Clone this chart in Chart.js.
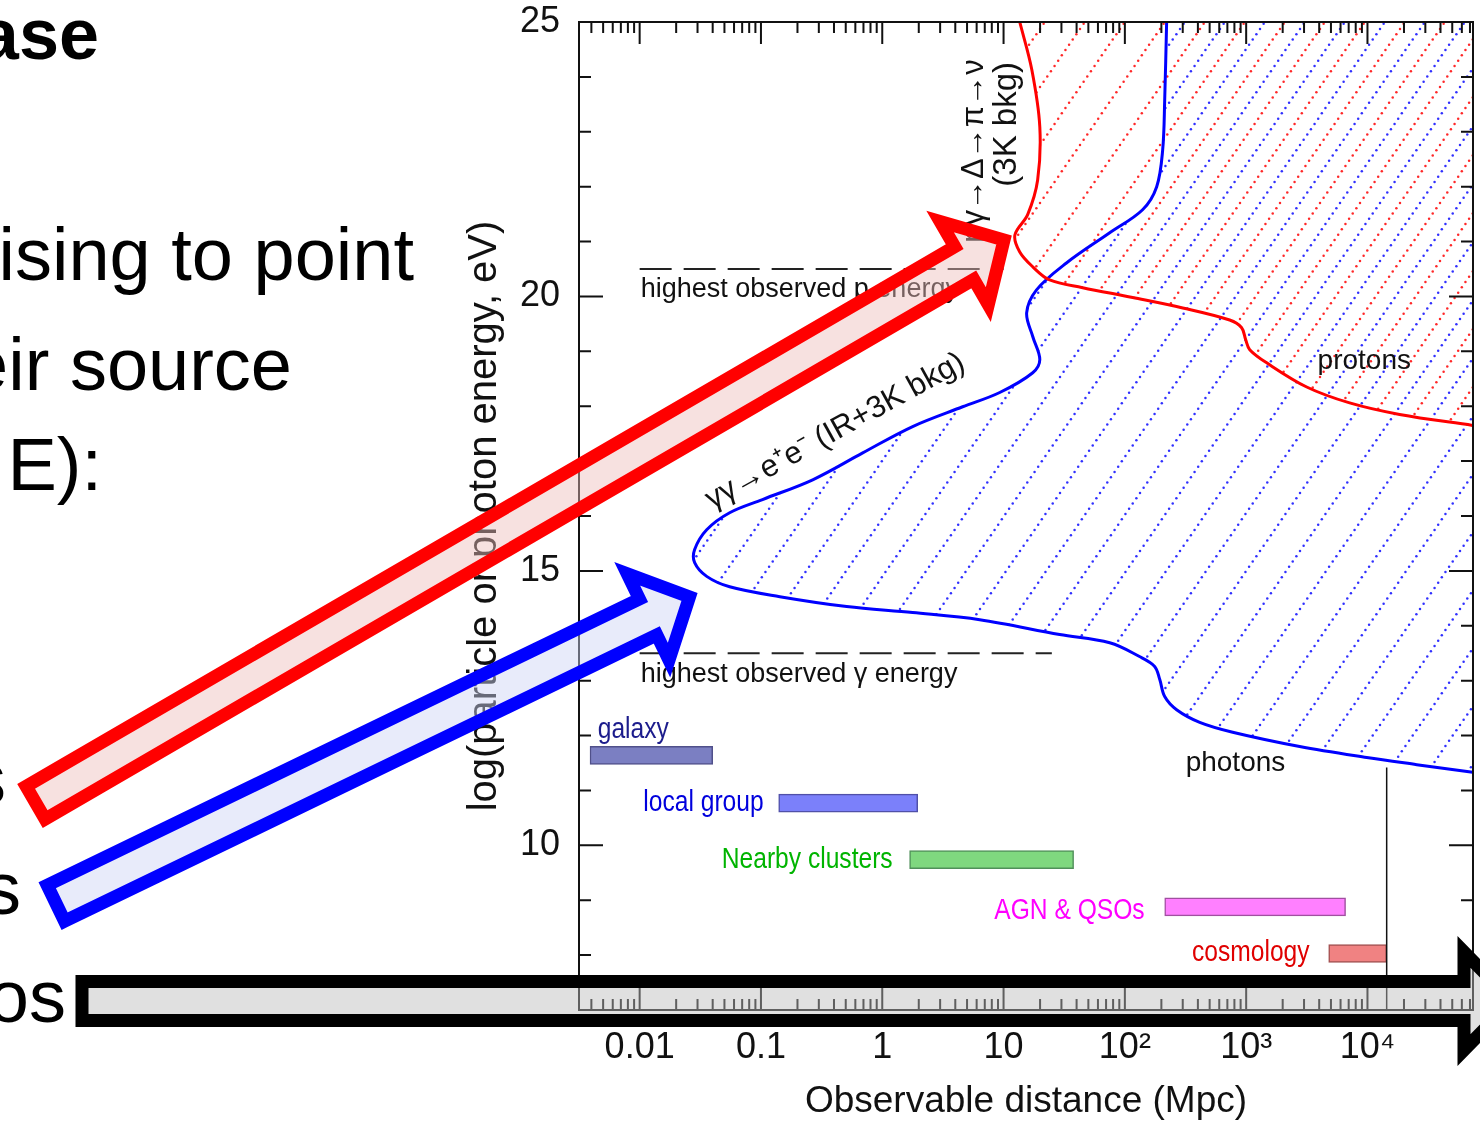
<!DOCTYPE html>
<html><head><meta charset="utf-8">
<script src="https://cdn.jsdelivr.net/npm/chart.js@4.4.0/dist/chart.umd.min.js"></script>
<style>
html,body{margin:0;padding:0;background:#fff;}
#wrap{position:relative;width:1480px;height:1127px;overflow:hidden;background:#fff;}
#c{position:absolute;left:0;top:0;}
#ov{position:absolute;left:0;top:0;}
</style></head><body>
<div id="wrap">
<canvas id="c" width="1480" height="1127"></canvas>
<svg id="ov" width="1480" height="1127" xmlns="http://www.w3.org/2000/svg">
  <g font-family="'Liberation Sans', Arial, Helvetica, sans-serif" fill="#000">
    <text x="99" y="59" text-anchor="end" font-size="72" font-weight="bold">ase</text>
    <text x="414" y="280" text-anchor="end" font-size="74">ising to point</text>
    <text x="292" y="390" text-anchor="end" font-size="74">eir source</text>
    <text x="102" y="490" text-anchor="end" font-size="74">E):</text>
    <text x="6" y="804" text-anchor="end" font-size="74">s</text>
    <text x="21" y="914" text-anchor="end" font-size="74">s</text>
    <text x="66" y="1022" text-anchor="end" font-size="74">os</text>
  </g>
  <g id="arrows"></g>
</svg>
</div>
<script>
// ---------------- data ----------------
const xTickValues = [0.01, 0.1, 1, 10, 100, 1000, 10000];
const xTickLabels = ['0.01', '0.1', '1', '10', '10²', '10³', '10⁴'];
const yTickValues = [10, 15, 20, 25];
const yTickLabels = ['10', '15', '20', '25'];

// proton horizon (pγ→Δ→π→ν on the 3K background): distance (Mpc), log E (eV)
const protonDist = [13.6, 17.1, 19.9, 19.1, 15.8, 12.4, 13.6, 17.4, 24, 44.9, 116, 300, 731, 918, 991, 1070, 1476, 3155, 7130, 18400, 73600];
const protonLogE = [25.0, 24.13, 23.09, 22.12, 21.49, 21.12, 20.81, 20.54, 20.30, 20.16, 19.98, 19.79, 19.57, 19.43, 19.21, 19.03, 18.79, 18.35, 18.06, 17.85, 17.65];

// photon horizon (γγ→e+e− on IR+3K background)
const photonDist = [221, 213, 205, 183, 140, 75, 33, 18.7, 15.5, 17.4, 19.9, 17.4, 9.3, 4.6, 1.78, 0.69, 0.267, 0.103, 0.0552, 0.0357, 0.0284, 0.0284, 0.0357, 0.0552, 0.143, 0.509, 1.78, 6.36, 29, 75, 132, 176, 194, 213, 267, 414, 774, 2760, 9860, 25500, 73600];
const photonLogE = [25.0, 23.58, 22.67, 22.0, 21.58, 21.16, 20.61, 20.12, 19.70, 19.27, 18.85, 18.61, 18.25, 17.99, 17.63, 17.15, 16.66, 16.30, 16.06, 15.75, 15.39, 15.15, 14.90, 14.71, 14.53, 14.35, 14.24, 14.11, 13.84, 13.69, 13.44, 13.26, 13.02, 12.71, 12.47, 12.24, 12.06, 11.80, 11.60, 11.47, 11.33];

// source classes: distance ranges (Mpc) and the energy level where the bar sits
const sourceNames = ['galaxy', 'local group', 'Nearby clusters', 'AGN & QSOs', 'cosmology'];
const sourceMin = [0.0039, 0.14, 1.68, 213, 4790];
const sourceMax = [0.040, 1.96, 37.8, 6600, 14400];
const sourceLogE = [11.64, 10.77, 9.74, 8.88, 8.03];

// highest observed energies (log eV) and the distance span of their dashed lines
const protonMaxE = 20.5, protonMaxFrom = 0.01, protonMaxTo = 10;
const gammaMaxE = 13.5, gammaMaxFrom = 0.01, gammaMaxTo = 25;

// vertical marker (Hubble distance)
const hubbleDist = 14400, hubbleTopE = 11.42;

const xMin = 0.0031623, xMax = 74131, yMin = 7, yMax = 25;

// ---------------- styling ----------------
const FONT = "'Liberation Sans', Arial, Helvetica, sans-serif";
const ctx0 = document.getElementById('c').getContext('2d');

function hatchPattern(color, shift) {
  const W = 40, H = 58, N = 11;
  const c = document.createElement('canvas');
  c.width = W; c.height = H;
  const g = c.getContext('2d');
  g.fillStyle = color;
  for (let k = 0; k < N; k++) {
    const t = (k + 0.5) / N;
    g.beginPath();
    g.arc(t * W, H - t * H, 1.25, 0, Math.PI * 2);
    g.fill();
  }
  const p = ctx0.createPattern(c, 'repeat');
  if (shift) p.setTransform(new DOMMatrix([1, 0, 0, 1, shift, 0]));
  return p;
}
const blueHatch = hatchPattern('#3030ff', 0);
const redHatch = hatchPattern('#ff2828', 20);

const pts = (xs, ys) => xs.map((x, i) => ({x, y: ys[i]}));
const protonPts = pts(protonDist, protonLogE);
const photonPts = pts(photonDist, photonLogE);
// closed regions (closing corners lie outside the plot, they are clipped)
const protonRegion = protonPts.concat([{x: 1e6, y: protonLogE[protonLogE.length - 1]}, {x: 1e6, y: 30}, {x: protonDist[0], y: 30}]);
const photonRegion = photonPts.concat([{x: 1e6, y: photonLogE[photonLogE.length - 1]}, {x: 1e6, y: 30}, {x: photonDist[0], y: 30}]);

const barFill = ['#7b7fc2', '#7b80fa', '#7fd87f', '#ff80ff', '#f08282'];
const barEdge = ['#50508a', '#5050a8', '#50905a', '#a050a0', '#a05050'];
const labelColor = ['#1c1c8c', '#0000dd', '#00b400', '#ff00ff', '#e00000'];

const TENSION = 0.35;

// annotation texts (anchored in data coordinates)
const notes = [
  {t: 'highest observed p energy', x: 0.0102, y: 19.99, size: 27},
  {t: 'highest observed γ energy', x: 0.0102, y: 12.98, size: 27},
  {t: 'protons', x: 3882, y: 18.68, size: 28},
  {t: 'photons', x: 317, y: 11.35, size: 28},
  {t: 'γγ→e⁺e⁻ (IR+3K bkg)', x: 0.0395, y: 16.12, size: 31, rot: -29},
  {t: 'pγ→Δ→π→ν', x: 6.73, y: 20.98, size: 31, rot: -90},
  {t: '(3K bkg)', x: 12.6, y: 22.0, size: 33, rot: -90},
  {t: sourceNames[0], x: 0.00451, y: 11.95, size: 30, sx: 0.82, color: labelColor[0]},
  {t: sourceNames[1], x: 0.1052, y: 10.62, size: 30, sx: 0.82, color: labelColor[1], align: 'right'},
  {t: sourceNames[2], x: 1.218, y: 9.58, size: 30, sx: 0.82, color: labelColor[2], align: 'right'},
  {t: sourceNames[3], x: 145.5, y: 8.66, size: 30, sx: 0.82, color: labelColor[3], align: 'right'},
  {t: sourceNames[4], x: 3334, y: 7.89, size: 30, sx: 0.82, color: labelColor[4], align: 'right'},
];

const framePlugin = {
  id: 'frameTicks',
  afterDatasetsDraw(chart) {
    const {ctx, chartArea: a, scales: {x, y}} = chart;
    ctx.save();
    ctx.strokeStyle = '#111';
    ctx.lineWidth = 2;
    ctx.beginPath();
    for (let n = -3; n <= 5; n++) {
      for (let k = 1; k <= 9; k++) {
        const v = k * Math.pow(10, n);
        if (v < x.min || v > x.max) continue;
        const px = x.getPixelForValue(v);
        const L = k === 1 ? 22 : 11;
        ctx.moveTo(px, a.bottom); ctx.lineTo(px, a.bottom - L);
        ctx.moveTo(px, a.top); ctx.lineTo(px, a.top + L);
      }
    }
    for (let v = Math.ceil(y.min); v <= y.max; v++) {
      const py = y.getPixelForValue(v);
      const L = v % 5 === 0 ? 24 : 12;
      ctx.moveTo(a.left, py); ctx.lineTo(a.left + L, py);
      ctx.moveTo(a.right, py); ctx.lineTo(a.right - L, py);
    }
    ctx.stroke();
    ctx.strokeRect(a.left, a.top, a.right - a.left, a.bottom - a.top);
    ctx.restore();

    for (const n of notes) {
      ctx.save();
      ctx.translate(x.getPixelForValue(n.x), y.getPixelForValue(n.y));
      if (n.rot) ctx.rotate(n.rot * Math.PI / 180);
      ctx.scale(n.sx || 1, 1);
      ctx.font = `${n.size}px ${FONT}`;
      ctx.fillStyle = n.color || '#111';
      ctx.textAlign = n.align || 'left';
      ctx.textBaseline = 'alphabetic';
      ctx.fillText(n.t, 0, 0);
      ctx.restore();
    }
  }
};

new Chart(document.getElementById('c'), {
  type: 'scatter',
  data: {
    datasets: [
      {type: 'line', label: 'photon region', data: photonRegion, borderWidth: 0, borderColor: 'rgba(0,0,0,0)',
       backgroundColor: blueHatch, fill: 'shape', pointRadius: 0, tension: TENSION, order: 5},
      {type: 'line', label: 'proton region', data: protonRegion, borderWidth: 0, borderColor: 'rgba(0,0,0,0)',
       backgroundColor: redHatch, fill: 'shape', pointRadius: 0, tension: TENSION, order: 4},
      {type: 'bar', label: 'sources', indexAxis: 'y',
       data: sourceNames.map((s, i) => ({x: [sourceMin[i], sourceMax[i]], y: sourceLogE[i]})),
       backgroundColor: barFill, borderColor: barEdge, borderWidth: 1.5, borderSkipped: false,
       barThickness: 18, order: 3},
      {type: 'line', label: 'highest p', data: [{x: protonMaxFrom, y: protonMaxE}, {x: protonMaxTo, y: protonMaxE}],
       borderColor: '#222', borderWidth: 2, borderDash: [32, 12], pointRadius: 0, fill: false, order: 2},
      {type: 'line', label: 'highest γ', data: [{x: gammaMaxFrom, y: gammaMaxE}, {x: gammaMaxTo, y: gammaMaxE}],
       borderColor: '#222', borderWidth: 2, borderDash: [32, 12], pointRadius: 0, fill: false, order: 2},
      {type: 'line', label: 'hubble', data: [{x: hubbleDist, y: hubbleTopE}, {x: hubbleDist, y: yMin}],
       borderColor: '#111', borderWidth: 1.5, pointRadius: 0, fill: false, order: 2},
      {type: 'line', label: 'protons', data: protonPts, borderColor: '#ff0000', borderWidth: 3,
       pointRadius: 0, fill: false, tension: TENSION, order: 0},
      {type: 'line', label: 'photons', data: photonPts, borderColor: '#0000ff', borderWidth: 3,
       pointRadius: 0, fill: false, tension: TENSION, order: 1},
    ]
  },
  options: {
    responsive: false,
    maintainAspectRatio: false,
    animation: false,
    events: [],
    layout: {padding: {left: 457, top: 22, right: 7, bottom: 1}},
    plugins: {legend: {display: false}, tooltip: {enabled: false}},
    scales: {
      x: {
        type: 'logarithmic', min: xMin, max: xMax, bounds: 'data', position: 'bottom', offset: false,
        grid: {display: false, drawTicks: false, offset: false}, border: {display: false},
        afterBuildTicks: s => { s.ticks = xTickValues.map(v => ({value: v})); },
        afterFit: s => { s.height = 116; s.paddingLeft = 0; s.paddingRight = 0; s.paddingTop = 0; s.paddingBottom = 0; },
        ticks: {autoSkip: false, maxRotation: 0, padding: 16, color: '#111',
                font: {family: FONT, size: 36}, callback: (v, i) => xTickLabels[i]},
        title: {display: true, text: 'Observable distance (Mpc)', color: '#111',
                font: {family: FONT, size: 37}, padding: {top: 0, bottom: 2}}
      },
      y: {
        type: 'linear', min: yMin, max: yMax, bounds: 'data', position: 'left', offset: false,
        grid: {display: false, drawTicks: false, offset: false}, border: {display: false},
        afterBuildTicks: s => { s.ticks = yTickValues.map(v => ({value: v})); },
        afterFit: s => { s.width = 122; s.paddingTop = 0; s.paddingBottom = 0; s.paddingLeft = 0; s.paddingRight = 0; },
        ticks: {autoSkip: false, padding: 19, color: '#111',
                font: {family: FONT, size: 36}, callback: (v, i) => yTickLabels[i]},
        title: {display: true, text: 'log(particle or photon energy, eV)', color: '#111',
                font: {family: FONT, size: 40}, padding: {top: 4, bottom: 0}}
      }
    }
  },
  plugins: [framePlugin]
});

// ---------------- slide overlay arrows ----------------
const slideArrows = [
  {tail: [35.6, 802.7], tip: [1004, 240], w: 19, hw: 48, hl: 46, stroke: '#ff0000', fill: 'rgba(237,190,188,0.46)'},
  {tail: [55.9, 903.2], tip: [689.5, 597], w: 20, hw: 48, hl: 46, stroke: '#0000ff', fill: 'rgba(205,211,244,0.46)'},
  {tail: [82, 1001], tip: [1512, 1001], w: 19.5, hw: 49, hl: 48, stroke: '#000000', fill: 'rgba(187,187,187,0.46)'},
];
const g = document.getElementById('arrows');
for (const a of slideArrows) {
  const [tx, ty] = a.tail, [px, py] = a.tip;
  const L = Math.hypot(px - tx, py - ty), ux = (px - tx) / L, uy = (py - ty) / L, nx = -uy, ny = ux;
  const bx = px - ux * a.hl, by = py - uy * a.hl;
  const P = [[tx + nx * a.w, ty + ny * a.w], [bx + nx * a.w, by + ny * a.w], [bx + nx * a.hw, by + ny * a.hw],
             [px, py], [bx - nx * a.hw, by - ny * a.hw], [bx - nx * a.w, by - ny * a.w], [tx - nx * a.w, ty - ny * a.w]];
  const poly = document.createElementNS('http://www.w3.org/2000/svg', 'polygon');
  poly.setAttribute('points', P.map(p => p[0].toFixed(1) + ',' + p[1].toFixed(1)).join(' '));
  poly.setAttribute('fill', a.fill);
  poly.setAttribute('stroke', a.stroke);
  poly.setAttribute('stroke-width', '13');
  poly.setAttribute('stroke-linejoin', 'miter');
  g.appendChild(poly);
}
</script>
</body></html>
